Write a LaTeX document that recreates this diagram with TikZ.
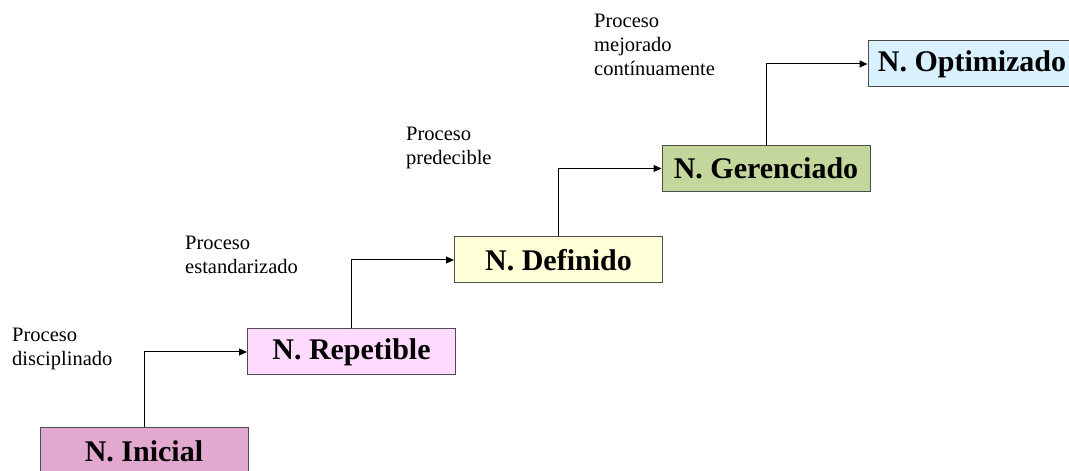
\documentclass[tikz,border=0pt]{standalone}
\usepackage{fontspec}
\setmainfont{Liberation Serif}
\usetikzlibrary{arrows.meta}
\definecolor{colIni}{HTML}{E2A8D0}
\definecolor{colRep}{HTML}{FFDAFF}
\definecolor{colDef}{HTML}{FFFFD8}
\definecolor{colGer}{HTML}{C3D69B}
\definecolor{colOpt}{HTML}{D9F0FF}
\tikzset{
    livello/.style={draw=black!70, line width=1pt, minimum width=208pt, minimum height=46pt,
        inner sep=0pt, font=\fontsize{30}{34}\selectfont\bfseries},
    nota/.style={anchor=north west, inner sep=0pt, align=left, font=\rmfamily\fontsize{20.5}{24}\selectfont},
    freccia/.style={line width=1pt, -{Triangle[length=8pt,width=7pt]}}
}
\begin{document}
\begin{tikzpicture}[x=1pt,y=1pt]
        \useasboundingbox (0,0) rectangle (1069,471);

        % Disegna i livelli
        \node[livello, fill=colIni] (ini) at (144,20) {N. Inicial};
        \node[livello, fill=colRep] (rep) at (351.5,119) {N. Repetible};
        \node[livello, fill=colDef] (def) at (558.5,211) {N. Definido};
        \node[livello, fill=colGer] (ger) at (766,302.5) {N. Gerenciado};
        \node[livello, fill=colOpt] (opt) at (972,407) {N. Optimizado};

        % Disegna le frecce
        \draw[freccia] (ini.north) |- (rep.west);
        \draw[freccia] (rep.north) |- (def.west);
        \draw[freccia] (def.north) |- (ger.west);
        \draw[freccia] (ger.north) |- (opt.west);

        % Etichette dei processi
        \node[nota] (p1) at (12,143) {Proceso\\disciplinado};
        \node[nota] (p2) at (185,235) {Proceso\\estandarizado};
        \node[nota] (p3) at (406,344) {Proceso\\predecible};
        \node[nota] (p4) at (594,457) {Proceso\\mejorado\\contínuamente};
    \end{tikzpicture}
\end{document}
